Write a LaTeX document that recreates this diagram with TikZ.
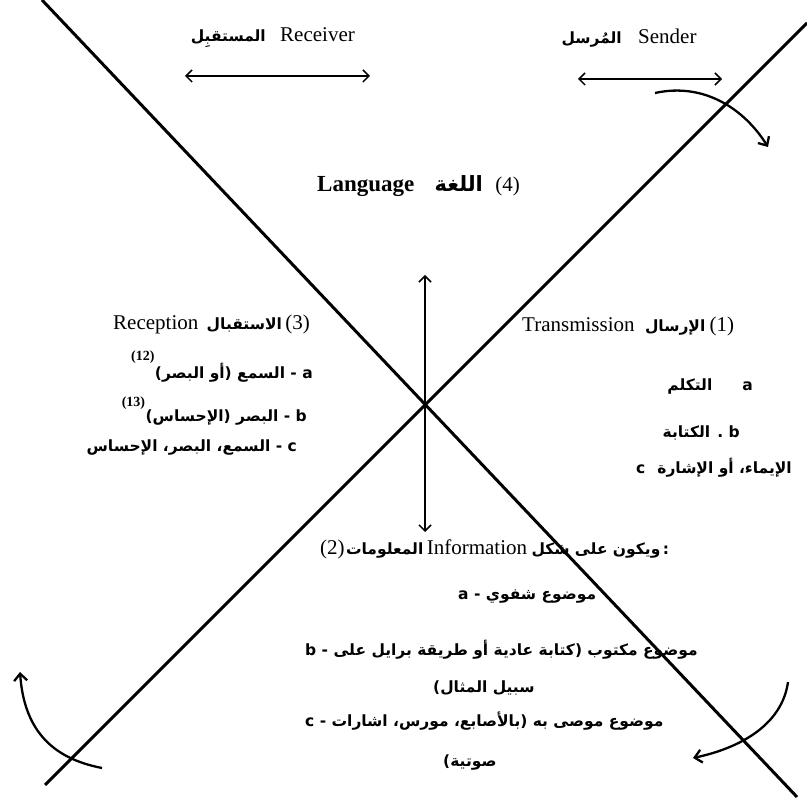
\documentclass[tikz,border=0pt]{standalone}
\usepackage{fontspec}
\setmainfont{Liberation Serif}
\newfontfamily\arabicfont[Script=Arabic]{DejaVu Sans}
\TeXXeTstate=1
\usetikzlibrary{arrows.meta,positioning}

\begin{document}
\begin{tikzpicture}[
    x=1pt, y=-1pt,
    axis/.style={line width=3pt},
    flow/.style={{Straight Barb[length=6pt,width=12pt]}-{Straight Barb[length=6pt,width=12pt]}, line width=1.5pt},
    turn/.style={-{Straight Barb[length=7pt,width=13pt]}, line width=2.3pt},
    lat/.style={inner sep=0pt, font=\fontsize{21}{24}\selectfont},
    sup/.style={inner sep=0pt, font=\fontsize{14}{16}\selectfont\bfseries},
    ar/.style={inner sep=0pt, font=\fontsize{15.5}{18}\selectfont\arabicfont\bfseries},
]
\useasboundingbox (0,0) rectangle (807,799);

% the two crossing lines
\coordinate (nw) at (42,0);
\coordinate (se) at (797,797);
\coordinate (sw) at (45,785);
\coordinate (ne) at (807,23);
\draw[axis] (nw) -- (se);
\draw[axis] (sw) -- (ne);

% Receiver / Sender
\node[lat, anchor=base west] (recv) at (280,42) {Receiver};
\node[ar, base left=14pt of recv] (recvar) {\beginR المستقبِل\endR};
\coordinate (r1) at (185,76);
\coordinate (r2) at (370,76);
\draw[flow] (r1) -- (r2);

\node[lat, anchor=base west] (send) at (638,44) {Sender};
\node[ar, base left=16pt of send] (sendar) {\beginR المُرسل\endR};
\coordinate (s1) at (578,79);
\coordinate (s2) at (722,79);
\draw[flow] (s1) -- (s2);

% Language
\node[lat, font=\fontsize{23}{25}\selectfont\bfseries, anchor=base west] (lang) at (317,192) {Language};
\node[ar, font=\fontsize{21}{24}\selectfont\arabicfont\bfseries, base right=20pt of lang] (langar) {\beginR اللغة\endR};
\node[lat, base right=12pt of langar] (four) {(4)};

% vertical arrow
\coordinate (vtop) at (425,275);
\coordinate (vbot) at (425,532);
\draw[flow] (vtop) -- (vbot);

% Reception (3)
\node[lat, anchor=base west] (recp) at (113,330) {Reception};
\node[ar, base right=8pt of recp] (recpar) {\beginR الاستقبال\endR};
\node[lat, base right=3pt of recpar] (three) {(3)};

\node[ar, anchor=base east] (la) at (313,379) {\beginR a - السمع (أو البصر)\endR};
\node[sup, anchor=south east] (la12) at (la.north west) {(12)};
\node[ar, anchor=base east] (lb) at (307,422) {\beginR b - البصر (الإحساس)\endR};
\node[sup, anchor=south east] (lb13) at (lb.north west) {(13)};
\node[ar, anchor=base east] (lc) at (297,452) {\beginR c - السمع، البصر، الإحساس\endR};

% Transmission (1)
\node[lat, anchor=base west] (trans) at (522,332) {Transmission};
\node[ar, base right=10pt of trans] (transar) {\beginR الإرسال\endR};
\node[lat, base right=4pt of transar] (one) {(1)};

\node[ar, anchor=base east] (ra) at (753,391) {\beginR a\hspace{30pt}التكلم\endR};
\node[ar, anchor=base east] (rb) at (740,438) {\beginR b . الكتابة\endR};
\node[ar, anchor=base east] (rc) at (792,474) {c\hspace{12pt}\beginR الإيماء، أو الإشارة\endR};

% Information (2)
\node[lat, anchor=base west] (two) at (320,555) {(2)};
\node[ar, base right=1pt of two] (infoar) {\beginR المعلومات\endR};
\node[lat, base right=3pt of infoar] (info) {Information};
\node[ar, base right=4pt of info] (shape) {\beginR ويكون على شكل\endR\,:};

\node[ar, anchor=base west] (ba) at (458,600) {a - \beginR موضوع شفوي\endR};
\node[ar, anchor=base west] (bb) at (305,656) {b - \beginR موضوع مكتوب (كتابة عادية أو طريقة برايل على\endR};
\node[ar, anchor=base west] (bb2) at (433,693) {\beginR سبيل المثال)\endR};
\node[ar, anchor=base west] (bc) at (305,727) {c - \beginR موضوع موصى به (بالأصابع، مورس، اشارات\endR};
\node[ar, anchor=base west] (bc2) at (443,766) {\beginR صوتية)\endR};

% curved arrows
\coordinate (t1) at (655,93);
\coordinate (t2) at (768,147);
\draw[turn] (t1) .. controls (705,82) and (745,110) .. (t2);
\coordinate (bl1) at (102,768);
\coordinate (bl2) at (20,672);
\draw[turn] (bl1) .. controls (50,758) and (24,728) .. (bl2);
\coordinate (br1) at (788,682);
\coordinate (br2) at (693,758);
\draw[turn] (br1) .. controls (782,725) and (740,748) .. (br2);

\end{tikzpicture}
\end{document}
